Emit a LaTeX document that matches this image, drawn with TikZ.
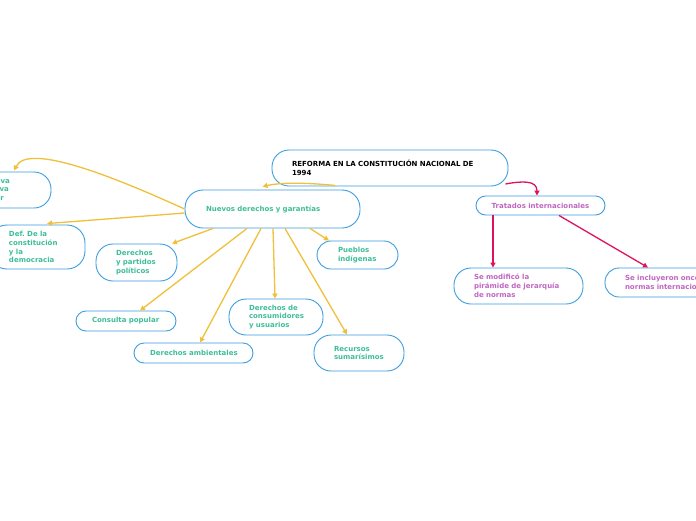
\documentclass[tikz,border=0pt]{standalone}
\usepackage{fontspec}
\newfontfamily\df{DejaVu Sans}
\usetikzlibrary{arrows.meta,calc}
\hyphenpenalty=10000
\exhyphenpenalty=10000
\definecolor{teal1}{HTML}{3DBE98}
\definecolor{purp}{HTML}{C066C0}
\definecolor{bord}{HTML}{3A9EE0}
\definecolor{yel}{HTML}{F0C03A}
\definecolor{redc}{HTML}{E0115F}
\tikzset{
  box/.style={draw=bord, line width=0.9pt, fill=white, rounded corners=16pt, align=left,
    inner ysep=0pt, font=\df\bfseries\fontsize{7}{8.8}\selectfont, text=teal1},
  pbox/.style={box, text=purp},
  yarr/.style={draw=yel, line width=1.3pt, -{Triangle[length=5pt,width=5pt]}},
  rarr/.style={draw=redc, line width=1.3pt, -{Triangle[length=5pt,width=5pt]}},
}
\begin{document}
\begin{tikzpicture}[x=1pt,y=-1pt]
\clip (0,0) rectangle (696,520);
\fill[white] (0,0) rectangle (696,520);

\node[box, text=black, minimum height=36pt, text width=196pt, inner xsep=20pt, rounded corners=17pt] (root) at (390,168) {REFORMA~EN~LA~CONSTITUCIÓN~NACIONAL~DE\\1994};
\node[box, minimum height=38pt, text width=133pt, inner xsep=21pt, rounded corners=18pt] (nuevos) at (272.5,209) {Nuevos~derechos~y~garantías};
\node[box, minimum height=36pt, text width=57.5pt, inner xsep=20pt, rounded corners=17pt] (inic) at (2.25,190) {Iniciativa\\colectiva\\popular};
\node[box, minimum height=44pt, text width=56pt, inner xsep=20pt, rounded corners=18pt] (def) at (37,247) {Def.~De~la\\constitución\\y~la\\democracia};
\node[box, minimum height=37pt, text width=41pt, inner xsep=20pt, rounded corners=17pt] (part) at (136.5,262.5) {Derechos\\y~partidos\\políticos};
\node[box, minimum height=28pt, text width=39pt, inner xsep=21pt, rounded corners=14pt] (pueb) at (357.5,255) {Pueblos\\indígenas};
\node[box, minimum height=20pt, text width=68pt, inner xsep=16pt, rounded corners=10pt] (cons) at (126,321) {Consulta~popular};
\node[box, minimum height=20pt, text width=87pt, inner xsep=16pt, rounded corners=10pt] (amb) at (193.5,353) {Derechos~ambientales};
\node[box, minimum height=36pt, text width=54pt, inner xsep=20pt, rounded corners=17pt] (usu) at (276,317) {Derechos~de\\consumidores\\y~usuarios};
\node[box, minimum height=36pt, text width=50pt, inner xsep=20pt, rounded corners=17pt] (rec) at (359,353) {Recursos\\sumarísimos};
\node[pbox, minimum height=19pt, text width=129pt, inner xsep=0pt, align=center, rounded corners=9.5pt] (trat) at (540.5,205.5) {Tratados~internacionales};
\node[pbox, minimum height=36pt, text width=89pt, inner xsep=20pt, rounded corners=17pt] (pir) at (518.5,286) {Se~modificó~la\\pirámide~de~jerarquía\\de~normas};
\node[pbox, minimum height=29pt, text width=114pt, inner xsep=20pt, rounded corners=14pt] (once) at (682,282.5) {Se~incluyeron~once\\normas~internacionales};

% yellow connectors
\draw[yarr] ($(root.south)+(-55,-1)$) .. controls (300,182) and (278,183) .. ($(nuevos.north)+(-10,-3)$);
\draw[yarr] (nuevos.west) .. controls (110,175) and (28,143) .. ($(inic.north)+(11.75,-1)$);
\draw[yarr] ($(nuevos.west)+(0,4)$) -- ($(def.north)+(10,-1)$);
\draw[yarr] ($(nuevos.south)+(-59.5,0)$) -- ($(part.north)+(35.5,0)$);
\draw[yarr] ($(nuevos.south)+(-25.5,0)$) -- ($(cons.north)+(14,0)$);
\draw[yarr] ($(nuevos.south)+(-11.5,0)$) -- ($(amb.north)+(6.5,0)$);
\draw[yarr] ($(nuevos.south)+(0.5,0)$) -- ($(usu.north)+(-1,0)$);
\draw[yarr] ($(nuevos.south)+(12.5,0)$) -- ($(rec.north)+(-12,0)$);
\draw[yarr] ($(nuevos.south)+(37.5,0)$) -- ($(pueb.north)+(-28.5,0)$);

% red connectors
\draw[rarr] ($(root.east)+(-3,16)$) .. controls (522,181) and (537,180) .. ($(trat.north)+(-3.5,0)$);
\draw[rarr] ($(trat.south)+(-47.5,0)$) -- ($(pir.north)+(-25.5,0)$);
\draw[rarr] ($(trat.south)+(18.5,0)$) -- ($(once.north)+(-34,0)$);
\end{tikzpicture}
\end{document}
